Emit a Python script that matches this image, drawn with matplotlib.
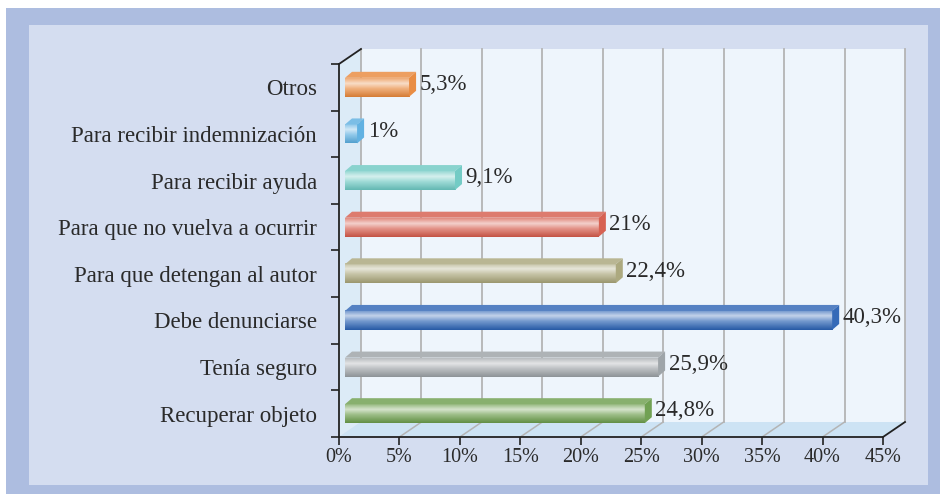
import matplotlib
matplotlib.use("Agg")
import matplotlib.pyplot as plt
import numpy as np
from matplotlib.patches import Rectangle, Polygon
from matplotlib.colors import LinearSegmentedColormap, to_rgb

# ---- data ----
categories = ["Recuperar objeto", "Tenía seguro", "Debe denunciarse",
              "Para que detengan al autor", "Para que no vuelva a ocurrir",
              "Para recibir ayuda", "Para recibir indemnización", "Otros"]
values = [24.8, 25.9, 40.3, 22.4, 21.0, 9.1, 1.0, 5.3]
value_labels = ["24,8%", "25,9%", "40,3%", "22,4%", "21%", "9,1%", "1%", "5,3%"]
bar_colors = ["#6a9c4a", "#9aa0a4", "#2a62b4", "#a8a478",
              "#d55a4a", "#6cc8c2", "#5aaee0", "#e8873a"]
x_ticks = [0, 5, 10, 15, 20, 25, 30, 35, 40, 45]
x_tick_labels = ["0%", "5%", "10%", "15%", "20%", "25%", "30%", "35%", "40%", "45%"]

plt.rcParams['font.family'] = ['Liberation Serif', 'DejaVu Serif']
FS = 16.5
TXT = "#2a2a2a"

W, H = 940, 494
fig = plt.figure(figsize=(W / 100, H / 100), dpi=100, facecolor="white")

# frame
fig.patches.append(Rectangle((6 / W, 0), (W - 6) / W, (H - 8) / H, transform=fig.transFigure,
                             facecolor="#adbde0", edgecolor="none", zorder=-10))
fig.patches.append(Rectangle((29 / W, (H - 485) / H), (928 - 29) / W, (485 - 25) / H,
                             transform=fig.transFigure, facecolor="#d4ddf0",
                             edgecolor="none", zorder=-9))

x0p, x1p, ytp, ybp = 339, 883, 64, 437
ax = fig.add_axes([x0p / W, (H - ybp) / H, (x1p - x0p) / W, (ybp - ytp) / H])
ax.set_facecolor("none")

n = len(categories)
xmax = 45
ylo, yhi = -0.5, n - 0.5
pxx = (x1p - x0p) / xmax
pxy = (ybp - ytp) / n

# depth offsets (in data units)
wdx, wdy = 22 / pxx, 15 / pxy
bdx, bdy = 7 / pxx, 6 / pxy
boff = 6 / pxx
bh = 19 / pxy

# back wall, left wall, floor
ax.add_patch(Polygon([(wdx, ylo + wdy), (xmax + wdx, ylo + wdy), (xmax + wdx, yhi + wdy), (wdx, yhi + wdy)],
                     closed=True, facecolor="#eef5fc", edgecolor="none", clip_on=False, zorder=0))
ax.add_patch(Polygon([(0, ylo), (wdx, ylo + wdy), (wdx, yhi + wdy), (0, yhi)],
                     closed=True, facecolor="#dcebf7", edgecolor="none", clip_on=False, zorder=0))
ax.add_patch(Polygon([(0, ylo), (xmax, ylo), (xmax + wdx, ylo + wdy), (wdx, ylo + wdy)],
                     closed=True, facecolor="#cde3f4", edgecolor="none", clip_on=False, zorder=0))
for t in x_ticks:
    ax.plot([t + wdx, t + wdx], [ylo + wdy, yhi + wdy], color="#b4b4b4", lw=1.3,
            clip_on=False, zorder=1)
    if t != 0 and t != xmax:
        ax.plot([t, t + wdx], [ylo, ylo + wdy], color="#b4b4b4", lw=1.1, clip_on=False, zorder=1)
ax.plot([0, wdx], [yhi, yhi + wdy], color="#222222", lw=1.3, clip_on=False, zorder=3)
ax.plot([xmax, xmax + wdx], [ylo, ylo + wdy], color="#222222", lw=1.3, clip_on=False, zorder=3)


def mix(c, m, f):
    c = np.array(to_rgb(c)); m = np.array(to_rgb(m))
    return tuple(c * (1 - f) + m * f)


for i, (v, col, lab) in enumerate(zip(values, bar_colors, value_labels)):
    yb, yt = i - bh / 2, i + bh / 2
    xa, xb = boff, boff + v
    cmap = LinearSegmentedColormap.from_list(
        "g", [(0.0, mix(col, "black", 0.08)), (0.45, mix(col, "white", 0.35)),
              (0.72, mix(col, "white", 0.72)), (1.0, mix(col, "white", 0.3))])
    grad = np.linspace(0, 1, 64).reshape(-1, 1)
    ax.imshow(grad, extent=(xa, xb, yb, yt), origin="lower", aspect="auto",
              cmap=cmap, zorder=4, interpolation="bilinear")
    ax.add_patch(Polygon([(xa, yt), (xb, yt), (xb + bdx, yt + bdy), (xa + bdx, yt + bdy)],
                         closed=True, facecolor=mix(col, "white", 0.2), edgecolor="none", zorder=4))
    ax.add_patch(Polygon([(xb, yb), (xb + bdx, yb + bdy), (xb + bdx, yt + bdy), (xb, yt)],
                         closed=True, facecolor=mix(col, "white", 0.05), edgecolor="none", zorder=4))
    ax.text(xb + bdx + 0.3, i + 0.06, lab, fontsize=FS, color=TXT, va="center", ha="left", zorder=5)

ax.set_xlim(0, xmax)
ax.set_ylim(ylo, yhi)

for s in ["top", "right"]:
    ax.spines[s].set_visible(False)
for s in ["left", "bottom"]:
    ax.spines[s].set_color("#222222")
    ax.spines[s].set_linewidth(1.3)
    ax.spines[s].set_zorder(3)

ax.set_xticks(x_ticks)
ax.set_xticklabels(x_tick_labels, fontsize=14.5, color=TXT)
ax.tick_params(axis="x", direction="out", length=6, width=1.2, color="#222222", pad=2)

ax.set_yticks(np.arange(ylo, yhi + 0.01, 1.0))
ax.set_yticklabels([])
ax.tick_params(axis="y", which="major", direction="out", length=6, width=1.2, color="#222222")
ax.set_yticks(np.arange(n), minor=True)
ax.set_yticklabels(categories, minor=True, fontsize=FS, color=TXT)
ax.tick_params(axis="y", which="minor", length=0, pad=16)

fig.savefig("out.png", dpi=100, facecolor=fig.get_facecolor())
